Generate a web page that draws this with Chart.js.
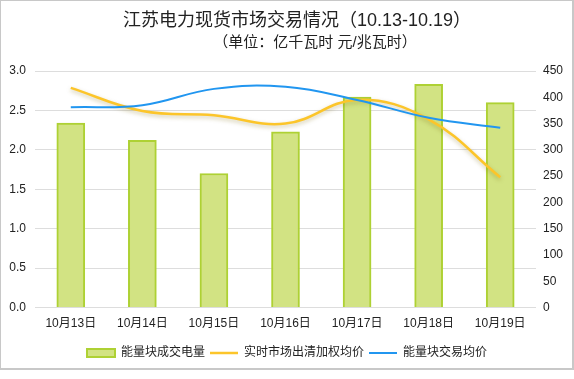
<!DOCTYPE html>
<html>
<head>
<meta charset="utf-8">
<script src="https://cdn.jsdelivr.net/npm/chart.js@4.4.0/dist/chart.umd.min.js"></script>
<style>
html,body{margin:0;padding:0;background:#fff;}
#wrap{position:absolute;left:0;top:0;width:574px;height:379px;}
</style>
</head>
<body>
<div id="wrap"><canvas id="c" width="574" height="379"></canvas></div>
<script>
const categories = ['10月13日','10月14日','10月15日','10月16日','10月17日','10月18日','10月19日'];
const tradedVolume = [2.34, 2.12, 1.70, 2.23, 2.67, 2.83, 2.60];
const clearingPrice = [418, 374, 366, 350, 395, 358, 248];
const blockPrice = [381, 385, 416, 420, 395, 361, 342];
const leftTicks = [0, 0.5, 1.0, 1.5, 2.0, 2.5, 3.0];
const rightTicks = [0, 50, 100, 150, 200, 250, 300, 350, 400, 450];
const titleText = '江苏电力现货市场交易情况（10.13-10.19）';
const subtitleText = '（单位：亿千瓦时 元/兆瓦时）';
const seriesNames = ['能量块成交电量', '实时市场出清加权均价', '能量块交易均价'];

const FONT = '"Liberation Sans", "Noto Sans CJK SC", sans-serif';

const framePlugin = {
  id: 'frame',
  beforeDraw(chart) {
    const ctx = chart.ctx;
    ctx.save();
    ctx.fillStyle = '#fff';
    ctx.fillRect(0, 0, chart.width, chart.height);
    ctx.strokeStyle = '#c8c8c8';
    ctx.lineWidth = 2;
    ctx.strokeRect(0, 0, 573, 369);
    ctx.fillStyle = '#222';
    ctx.textAlign = 'center';
    ctx.textBaseline = 'middle';
    ctx.font = '18px ' + FONT;
    ctx.fillText(titleText, 297, 21);
    ctx.font = '15px ' + FONT;
    ctx.fillText(subtitleText, 315, 43);
    ctx.restore();
  },
  beforeDatasetDraw(chart, args) {
    if (args.index === 0) {
      const ctx = chart.ctx;
      ctx.save();
      ctx.shadowColor = 'rgba(120,100,0,0.35)';
      ctx.shadowBlur = 4;
      ctx.shadowOffsetY = 2;
    }
  },
  afterDatasetDraw(chart, args) {
    if (args.index === 0) chart.ctx.restore();
  }
};

new Chart(document.getElementById('c'), {
  data: {
    labels: categories,
    datasets: [
      {
        type: 'line', label: seriesNames[1], data: clearingPrice, yAxisID: 'y1',
        borderColor: '#fcc52a', borderWidth: 2.5, tension: 0.4, pointRadius: 0,
        pointStyle: 'line', fill: false, order: 1
      },
      {
        type: 'line', label: seriesNames[2], data: blockPrice, yAxisID: 'y1',
        borderColor: '#2196f0', borderWidth: 2, tension: 0.4, pointRadius: 0,
        pointStyle: 'line', fill: false, order: 0
      },
      {
        type: 'bar', label: seriesNames[0], data: tradedVolume, yAxisID: 'y',
        backgroundColor: '#d2e383', borderColor: '#aed134', borderWidth: 2,
        borderSkipped: 'bottom', barThickness: 28, pointStyle: 'rect', order: 2
      }
    ]
  },
  options: {
    responsive: false,
    animation: false,
    layout: { padding: { top: 71, bottom: 10, left: 0, right: 0 } },
    plugins: {
      legend: {
        position: 'bottom',
        labels: {
          font: { size: 12, family: FONT }, color: '#222',
          usePointStyle: true, pointStyleWidth: 28, boxHeight: 8, boxWidth: 28,
          padding: 5,
          sort: (a, b) => {
            const o = {}; o[seriesNames[0]] = 0; o[seriesNames[1]] = 1; o[seriesNames[2]] = 2;
            return o[a.text] - o[b.text];
          }
        }
      },
      tooltip: { enabled: false }
    },
    scales: {
      x: {
        grid: { display: false, drawTicks: false },
        border: { display: false },
        afterFit: (s) => { s.height = 34.4; },
        ticks: { font: { size: 12, family: FONT }, color: '#222', padding: 9 }
      },
      y: {
        position: 'left', min: 0, max: 3,
        afterBuildTicks: (s) => { s.ticks = leftTicks.map(v => ({ value: v })); },
        afterFit: (s) => { s.width = 35; },
        grid: { color: '#dddddd', drawTicks: false },
        border: { display: false },
        ticks: { font: { size: 12, family: FONT }, color: '#222', padding: 9,
                 callback: (v) => Number(v).toFixed(1) }
      },
      y1: {
        position: 'right', min: 0, max: 450,
        afterBuildTicks: (s) => { s.ticks = rightTicks.map(v => ({ value: v })); },
        afterFit: (s) => { s.width = 38; },
        grid: { display: false, drawTicks: false },
        border: { display: false },
        ticks: { font: { size: 12, family: FONT }, color: '#222', padding: 7 }
      }
    }
  },
  plugins: [framePlugin]
});
</script>
</body>
</html>
